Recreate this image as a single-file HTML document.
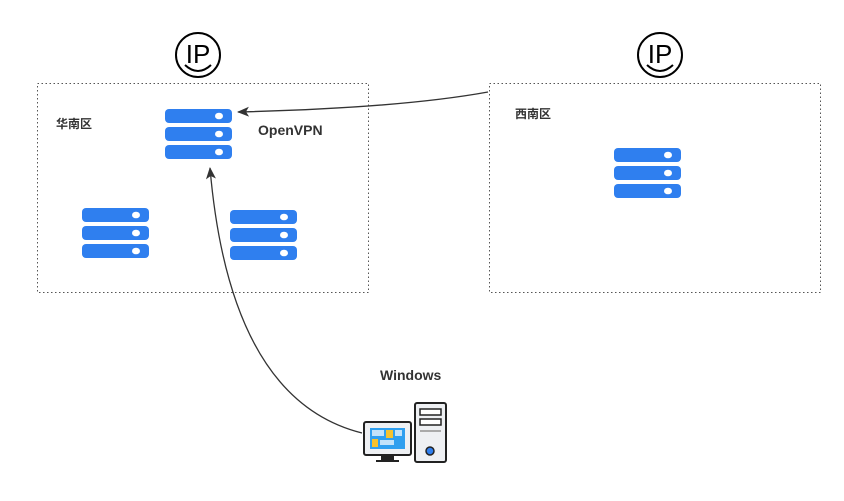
<!DOCTYPE html>
<html><head><meta charset="utf-8"><style>
html,body{margin:0;padding:0;background:#fff;}
svg{display:block;font-family:"Liberation Sans","Noto Sans CJK SC",sans-serif;}
</style></head><body>
<svg width="844" height="501" viewBox="0 0 844 501" xmlns="http://www.w3.org/2000/svg">
<defs>
<g id="srv">
<rect x="0" y="0" width="67" height="14" rx="4" fill="#2f7fef"/>
<rect x="0" y="18" width="67" height="14" rx="4" fill="#2f7fef"/>
<rect x="0" y="36" width="67" height="14" rx="4" fill="#2f7fef"/>
<ellipse cx="54" cy="7" rx="4" ry="3.3" fill="#fff"/>
<ellipse cx="54" cy="25" rx="4" ry="3.3" fill="#fff"/>
<ellipse cx="54" cy="43" rx="4" ry="3.3" fill="#fff"/>
</g>
<g id="ip">
<circle cx="0" cy="0" r="22" fill="#fff" stroke="#000" stroke-width="2"/>
<text x="0" y="8" font-size="26" text-anchor="middle" fill="#000">IP</text>
<path d="M-13 10 Q0 22 13 10" fill="none" stroke="#000" stroke-width="2"/>
</g>
<marker id="ah" markerWidth="12" markerHeight="10" refX="11" refY="5" orient="auto" markerUnits="userSpaceOnUse">
<path d="M0 0 L12 5 L0 10 L3 5 Z" fill="#333"/>
</marker>
</defs>
<rect x="37.5" y="83.5" width="331" height="209" fill="none" stroke="#555" stroke-dasharray="1.5,2.5"/>
<rect x="489.5" y="83.5" width="331" height="209" fill="none" stroke="#555" stroke-dasharray="1.5,2.5"/>
<use href="#ip" x="198" y="55"/>
<use href="#ip" x="660" y="55"/>
<text x="56" y="128" font-size="12" font-weight="bold" fill="#333">华南区</text>
<text x="515" y="118" font-size="12" font-weight="bold" fill="#333">西南区</text>
<text x="258" y="135" font-size="14" font-weight="bold" fill="#333">OpenVPN</text>
<text x="380" y="380" font-size="14" font-weight="bold" fill="#333">Windows</text>
<use href="#srv" x="165" y="109"/>
<use href="#srv" x="82" y="208"/>
<use href="#srv" x="230" y="210"/>
<use href="#srv" x="614" y="148"/>
<path d="M488 92 Q400 108 238 112" fill="none" stroke="#333" stroke-width="1.3" marker-end="url(#ah)"/>
<path d="M362 433 Q230 400 210 168" fill="none" stroke="#333" stroke-width="1.3" marker-end="url(#ah)"/>
<rect x="415" y="403" width="31" height="59" rx="2" fill="#eef0f3" stroke="#222" stroke-width="2"/>
<rect x="420" y="409" width="21" height="6" fill="#fff" stroke="#222" stroke-width="1.5"/>
<rect x="420" y="419" width="21" height="6" fill="#fff" stroke="#222" stroke-width="1.5"/>
<line x1="420" y1="431" x2="441" y2="431" stroke="#aaa" stroke-width="2"/>
<circle cx="430" cy="451" r="4" fill="#2f7fef" stroke="#222" stroke-width="1.5"/>
<rect x="364" y="422" width="47" height="33" rx="2" fill="#eef0f3" stroke="#222" stroke-width="2"/>
<rect x="370" y="428" width="35" height="21" fill="#2f9fef"/>
<rect x="372" y="430" width="12" height="6" fill="#fff" opacity=".7"/>
<rect x="386" y="430" width="7" height="8" fill="#f6c22d"/>
<rect x="395" y="430" width="7" height="6" fill="#fff" opacity=".7"/>
<rect x="372" y="439" width="6" height="8" fill="#f6c22d"/>
<rect x="380" y="440" width="14" height="5" fill="#fff" opacity=".7"/>
<rect x="381" y="455" width="13" height="5" fill="#222"/>
<rect x="376" y="460" width="23" height="2" fill="#222"/>
</svg>
</body></html>
